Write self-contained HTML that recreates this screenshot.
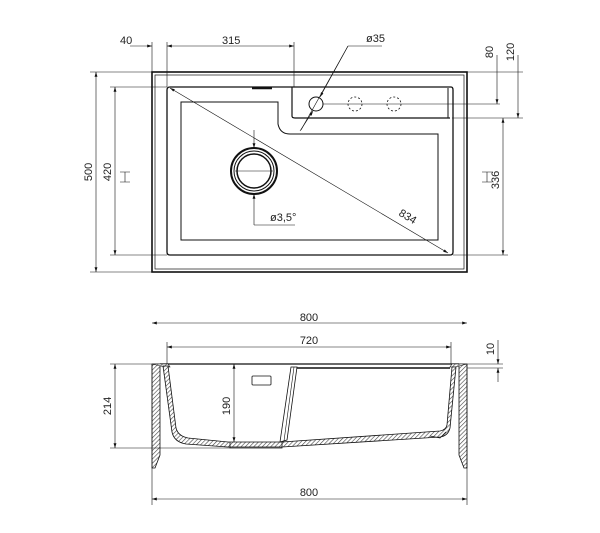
<!DOCTYPE html>
<html><head><style>
html,body{margin:0;padding:0;background:#fff;}
svg{display:block;}
text{font-family:"Liberation Sans",sans-serif;font-size:11px;fill:#222;}
</style></head><body>
<svg width="600" height="533" viewBox="0 0 600 533" xmlns="http://www.w3.org/2000/svg">
<defs>
<pattern id="h" width="3" height="3" patternUnits="userSpaceOnUse" patternTransform="rotate(45)">
<rect width="3" height="3" fill="#fff"/><line x1="0" y1="0" x2="0" y2="3" stroke="#444" stroke-width="1.2"/></pattern>
<marker id="a" viewBox="0 0 10 6" refX="10" refY="3" markerWidth="8" markerHeight="5" orient="auto-start-reverse"><path d="M0,0L10,3L0,6z" fill="#111"/></marker>
</defs>
<g fill="none" stroke="#111">
<!-- TOP VIEW -->
<rect x="152" y="72" width="315" height="200" stroke-width="1.6"/>
<rect x="155" y="75" width="309" height="194" stroke-width="0.7"/>
<path d="M170,87 L451,87 Q453,87 453,90 L453,252 Q453,255 450,255 L170,255 Q167,255 167,252 L167,90 Q167,87 170,87 Z" stroke-width="1.3"/>
<path d="M292,87 L292,116 Q292,118 295,118 L450,118" stroke-width="1.2"/>
<path d="M448,88 L448,118" stroke-width="1"/>
<line x1="252" y1="88" x2="272" y2="88" stroke-width="2.5"/>
<path d="M181,102 L278,102 L278,124 Q280,134 290,134 L438,134 L438,240 L181,240 Z" stroke-width="1"/>
<circle cx="254" cy="171" r="23" stroke-width="2"/>
<circle cx="254" cy="171" r="20" stroke-width="1"/>
<circle cx="254" cy="171" r="17" stroke-width="1.5"/>
<line x1="235" y1="171" x2="273" y2="171" stroke-width="0.5"/>
<circle cx="316" cy="104" r="7" stroke-width="1"/>
<circle cx="355" cy="104" r="7" stroke-width="0.8" stroke-dasharray="2,2"/>
<circle cx="394" cy="104" r="7" stroke-width="0.8" stroke-dasharray="2,2"/>
<g stroke-width="0.6">
<line x1="152" y1="72" x2="152" y2="42"/><line x1="167" y1="87" x2="167" y2="42"/><line x1="294" y1="87" x2="294" y2="42"/>
<line x1="130" y1="46" x2="152" y2="46" marker-end="url(#a)"/>
<line x1="167" y1="46" x2="294" y2="46" marker-start="url(#a)" marker-end="url(#a)"/>
<line x1="348" y1="46" x2="382" y2="46"/>
<line x1="348" y1="46" x2="301" y2="130"/>
<line x1="348" y1="46" x2="320" y2="97" marker-end="url(#a)"/>
<line x1="300" y1="131" x2="313" y2="111" marker-end="url(#a)"/>
<line x1="90" y1="72" x2="152" y2="72"/><line x1="90" y1="272" x2="152" y2="272"/>
<line x1="96" y1="72" x2="96" y2="272" marker-start="url(#a)" marker-end="url(#a)"/>
<line x1="110" y1="87" x2="167" y2="87"/><line x1="110" y1="255" x2="167" y2="255"/>
<line x1="115" y1="87" x2="115" y2="255" marker-start="url(#a)" marker-end="url(#a)"/>
<line x1="467" y1="72" x2="523" y2="72"/>
<line x1="323" y1="104" x2="500" y2="104"/>
<line x1="452" y1="118" x2="523" y2="118"/>
<line x1="453" y1="255" x2="508" y2="255"/>
<line x1="497" y1="55" x2="497" y2="104" marker-end="url(#a)"/>
<line x1="518" y1="55" x2="518" y2="118" marker-end="url(#a)"/>
<line x1="503" y1="118" x2="503" y2="255" marker-start="url(#a)" marker-end="url(#a)"/>
<line x1="170" y1="88" x2="448" y2="253" marker-start="url(#a)" marker-end="url(#a)"/>
<line x1="254" y1="130" x2="254" y2="148" marker-end="url(#a)"/>
<line x1="254" y1="225" x2="254" y2="194" marker-end="url(#a)"/>
<line x1="254" y1="225" x2="295" y2="225"/>
<path d="M120,172 L130,172 M125,172 L125,182 M120,182 L130,182" />
<path d="M482,172 L492,172 M487,172 L487,182 M482,182 L492,182" />
</g>
<!-- SIDE VIEW -->
<line x1="160" y1="364" x2="459" y2="364" stroke-width="1.2"/>
<path d="M152,364 L160,364 L160,455 L155,468 L152,468 Z" fill="url(#h)" stroke-width="0.8"/>
<path d="M467,364 L459,364 L459,455 L464,468 L467,468 Z" fill="url(#h)" stroke-width="0.8"/>
<path d="M152,364 L168,364 L170,367 L165,367 Z" fill="url(#h)" stroke-width="0.6"/>
<path d="M467,364 L452,364 L450,367 L455,367 Z" fill="url(#h)" stroke-width="0.6"/>
<path d="M163,366 L168,366 L176,428 Q178,436 188,438 L228,442 L282,442 L440,431 Q446,430 447,425 L452,367 L456,367 L450,428 Q448,436 440,437 L282,447 L228,447 L186,444 Q174,442 172,432 Z" fill="url(#h)" stroke-width="0.8"/>
<path d="M230,442 L230,448 L282,448 L282,442" stroke-width="0.8"/>
<path d="M291,367 L297,367 L287,440 L280,442 Z" fill="#fff" stroke-width="0.8"/>
<line x1="294" y1="367" x2="284" y2="441" stroke-width="0.6"/>
<line x1="297" y1="368" x2="450" y2="368" stroke-width="1.5"/>
<rect x="252" y="376" width="19" height="9" rx="1" stroke-width="0.8"/>
<path d="M430,436 L440,438 L446,432" stroke-width="0.8"/>
<g stroke-width="0.6">
<line x1="152" y1="364" x2="152" y2="505"/><line x1="467" y1="364" x2="467" y2="505"/>
<line x1="167" y1="364" x2="167" y2="342"/><line x1="451" y1="364" x2="451" y2="342"/>
<line x1="152" y1="323" x2="467" y2="323" marker-start="url(#a)" marker-end="url(#a)"/>
<line x1="167" y1="347" x2="451" y2="347" marker-start="url(#a)" marker-end="url(#a)"/>
<line x1="152" y1="499" x2="467" y2="499" marker-start="url(#a)" marker-end="url(#a)"/>
<line x1="110" y1="364" x2="152" y2="364"/><line x1="110" y1="448" x2="230" y2="448"/>
<line x1="115" y1="364" x2="115" y2="448" marker-start="url(#a)" marker-end="url(#a)"/>
<line x1="234" y1="364" x2="234" y2="442" marker-start="url(#a)" marker-end="url(#a)"/>
<line x1="467" y1="364" x2="503" y2="364"/><line x1="467" y1="368" x2="503" y2="368"/>
<line x1="498" y1="340" x2="498" y2="364" marker-end="url(#a)"/>
<line x1="498" y1="382" x2="498" y2="368" marker-end="url(#a)"/>
</g>
</g>
<g>
<text x="120" y="44">40</text>
<text x="222" y="44">315</text>
<text x="366" y="42">ø35</text>
<text x="270" y="221">ø3,5°</text>
<text x="398" y="215" transform="rotate(31 398 215)">834</text>
<text transform="translate(92 172) rotate(-90)" text-anchor="middle">500</text>
<text transform="translate(111 172) rotate(-90)" text-anchor="middle">420</text>
<text transform="translate(493 52) rotate(-90)" text-anchor="middle">80</text>
<text transform="translate(514 52) rotate(-90)" text-anchor="middle">120</text>
<text transform="translate(499 180) rotate(-90)" text-anchor="middle">336</text>
<text x="309" y="321" text-anchor="middle">800</text>
<text x="309" y="344" text-anchor="middle">720</text>
<text x="309" y="496" text-anchor="middle">800</text>
<text transform="translate(111 406) rotate(-90)" text-anchor="middle">214</text>
<text transform="translate(230 406) rotate(-90)" text-anchor="middle">190</text>
<text transform="translate(494 349) rotate(-90)" text-anchor="middle">10</text>
</g>
</svg>
</body></html>
